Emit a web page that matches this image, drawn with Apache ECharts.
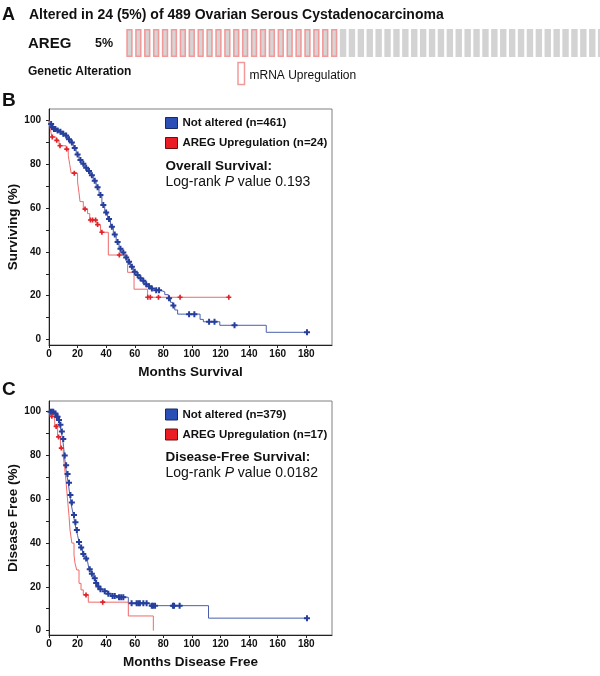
<!DOCTYPE html>
<html>
<head>
<meta charset="utf-8">
<script src="https://cdn.jsdelivr.net/npm/echarts@6/dist/echarts.min.js"></script>
<style>
html,body{margin:0;padding:0;background:#fff;}
#chart{width:600px;height:676px;}
</style>
</head>
<body>
<div id="chart"></div>
<script>
// ---------- Panel A: oncoprint ----------
const alteredSamples = 24;          // mRNA upregulation
const unalteredSamplesShown = 30;   // remaining samples visible in the crop

// ---------- Panel B: Overall survival ----------
const blueBTime = [0,1,2,3,5,7,9,11,13,15,17,19,21,23,25,27,29,31,33,35,37,39,41,43,45,47,49,51,53,55,57,59,61,63,65,67,69,71,74,78,81,83.5,85,86.5,88,90,105.7,108,119.5,152,180.5];
const blueBSurv = [100,98.5,97,96.2,95.5,94.9,94,93.2,91.5,90,87.5,84.5,82,80.3,78.5,77,75,72.5,69.5,66,61.5,58,55,51.5,48,44.5,41.5,39.8,37.5,35.5,33.2,31,29.5,28,26.8,25.2,24.3,23.3,22.5,21.8,20.5,18.8,17,15.5,13.5,11.6,9.2,8.1,6.5,3.3,3.3];
const blueBCensor = [1.5,2.5,3.5,4.5,6,8,10,12,14,16,18,20,22,24,26,28,30,32,34,36,38,40,42,44,46,48,50,52,54,56,58,60,62,64,66,68,70,72,75,77,84,87,98,101.7,112,115.8,129.8,180.5];
const redBTime = [0,1,2,5,7,12,13.5,14.5,15.5,20,21,21.7,24,27,28.5,33.5,36,41.5,55,59.5,69,125.8];
const redBSurv = [100,96,92.5,91,88.5,87,84,80,76,72,67,63,59.6,57.5,54.6,52.5,49,38.6,30.7,23,19.3,19.3];
const redBCensor = [2.3,5.4,7.7,12.4,17.7,25.2,29,30.5,32.6,34,37,49.2,69.1,70.9,76.6,91.7,125.8];

// ---------- Panel C: Disease-free survival ----------
const blueCTime = [0,4,5,6.5,7.5,8.5,9.5,10.2,10.8,11.5,12.3,13.5,14.5,15.3,16.2,17,18,19,20,21,22,23.5,25,27,28,29.5,31,32.5,34,35.5,38,41,44,48,55.5,70.7,111.6,180.5];
const blueCSurv = [100,99.2,97.7,96.2,94,91,87.5,84,80,75.5,71.5,67.5,62,58.5,55.5,52.8,49.5,46,43.5,40.5,38,35,33,31.5,28,26,23.9,21.8,20.2,18.9,18,16.8,15.8,15.2,12.5,11.4,5.7,5.7];
const blueCCensor = [1,2,3,4.5,5.5,6,7,8,9,10,11,12,13,14,15,16,17.5,18.5,19.5,21,22.5,24,26,28.5,30,32,33,34.5,36,39,41.5,44.5,46,49,50.5,52,57.8,61.3,62.5,63.6,66,68.3,71.9,72.8,74.2,86.7,87.5,91.4,180.5];
const redCTime = [0,1,4,6,8,10,11,11.8,12.5,13.2,14,14.7,16,17.5,18.2,19.4,21,22.4,24,27.5,55.5,73];
const redCSurv = [100,97.9,93.3,88.5,83.4,79.5,74,68.8,63.5,58.2,52.5,46,40,34.5,30.8,27.7,21.6,18.6,16.3,13,6.7,0];
const redCCensor = [2,5,6.7,8.6,25.9,37.6];

const xTicks = [0,20,40,60,80,100,120,140,160,180];
const yLabels = [0,20,40,60,80,100];
const yTicks = [0,10,20,30,40,50,60,70,80,90,100];

// ---------- helpers ----------
const FONT = '"Liberation Sans", Arial, Helvetica, sans-serif';
const BLUE_LINE = '#4a5fae', BLUE_MARK = '#263f9c';
const RED_LINE = '#ee6a6a', RED_MARK = '#e0222a';
const PLUS = 'path://M2,0H4V2H6V4H4V6H2V4H0V2H2Z';

function pairs(t, s) { return t.map((v, i) => [v, s[i]]); }
function stepAt(t, s, x) { let v = s[0]; for (let i = 0; i < t.length; i++) { if (t[i] <= x) v = s[i]; } return v; }
function censorPts(c, t, s) { return c.map(x => [x, stepAt(t, s, x)]); }

const bars = [];
for (let i = 0; i < alteredSamples + unalteredSamplesShown; i++) {
  const alt = i < alteredSamples;
  bars.push({ value: 1, itemStyle: alt ? { color: '#d5d5d5', borderColor: '#f29a9a', borderWidth: 1.6 } : { color: '#d3d3d3' } });
}

function xAxisCfg(gridIndex, name, gap) {
  return {
    type: 'value', gridIndex, min: 0, max: 198,
    name, nameLocation: 'middle', nameGap: gap,
    nameTextStyle: { fontFamily: FONT, fontWeight: 'bold', fontSize: 13.5, color: '#111' },
    axisLine: { show: true, onZero: false, lineStyle: { color: '#222', width: 1 } },
    axisTick: { show: true, length: 3, customValues: xTicks, lineStyle: { color: '#222' } },
    axisLabel: { customValues: xTicks, margin: 4, fontFamily: FONT, fontWeight: 'bold', fontSize: 10, color: '#111' },
    splitLine: { show: false }
  };
}
function yAxisCfg(gridIndex, name, min, max) {
  return {
    type: 'value', gridIndex, min, max,
    name, nameLocation: 'middle', nameGap: 28, nameRotate: 90,
    nameTextStyle: { fontFamily: FONT, fontWeight: 'bold', fontSize: 13.5, color: '#111' },
    axisLine: { show: true, onZero: false, lineStyle: { color: '#222', width: 1 } },
    axisTick: { show: true, length: 3, customValues: yTicks, lineStyle: { color: '#222' } },
    axisLabel: { customValues: yLabels, margin: 8, fontFamily: FONT, fontWeight: 'bold', fontSize: 10, color: '#111' },
    splitLine: { show: false }
  };
}
function lineSeries(name, xi, t, s, color) {
  return { name, type: 'line', xAxisIndex: xi, yAxisIndex: xi, step: 'end', data: pairs(t, s),
    showSymbol: false, symbol: 'none', lineStyle: { color, width: 1 }, itemStyle: { color }, z: 3 };
}
function censorSeries(name, xi, pts, color, size) {
  return { name, type: 'scatter', xAxisIndex: xi, yAxisIndex: xi, data: pts, symbol: PLUS, symbolSize: size,
    itemStyle: { color, opacity: 1 }, z: 4 };
}
function txt(x, y, text, size, bold, extra) {
  return Object.assign({ type: 'text', x, y, style: { text, fontFamily: FONT, fontSize: size, fontWeight: bold ? 'bold' : 'normal', fill: '#111', textVerticalAlign: 'middle' } }, extra || {});
}
function richTxt(x, y, pre, post) {
  return { type: 'text', x, y, style: {
    text: '{n|' + pre + '}{i|P}{n|' + post + '}', textVerticalAlign: 'middle',
    rich: { n: { fontFamily: FONT, fontSize: 14, fill: '#111', color: '#111' }, i: { fontFamily: FONT, fontSize: 14, fontStyle: 'italic', fill: '#111', color: '#111' } } } };
}
function legendCfg(top, names) {
  return {
    orient: 'vertical', left: 165, top, itemWidth: 12, itemHeight: 11, itemGap: 8, icon: 'rect',
    padding: 0, selectedMode: false,
    textStyle: { fontFamily: FONT, fontWeight: 'bold', fontSize: 11.5, color: '#111' },
    data: [
      { name: names[0], icon: 'rect', itemStyle: { color: '#2b4fb5', borderColor: '#1a2a60', borderWidth: 1 } },
      { name: names[1], icon: 'rect', itemStyle: { color: '#ec1c24', borderColor: '#6a1010', borderWidth: 1 } }
    ]
  };
}

const chart = echarts.init(document.getElementById('chart'), null, { renderer: 'canvas' });
chart.setOption({
  animation: false,
  backgroundColor: '#fff',
  grid: [
    { left: 125, top: 29, width: (alteredSamples + unalteredSamplesShown) * 8.9, height: 28, show: false, containLabel: false, outerBoundsMode: 'none' },
    { left: 49, top: 109, width: 283, height: 236, show: true, borderColor: '#808080', borderWidth: 1, backgroundColor: 'transparent', containLabel: false, outerBoundsMode: 'none' },
    { left: 49, top: 401, width: 283, height: 234, show: true, borderColor: '#808080', borderWidth: 1, backgroundColor: 'transparent', containLabel: false, outerBoundsMode: 'none' }
  ],
  xAxis: [
    { type: 'category', gridIndex: 0, show: false, data: bars.map((b, i) => i) },
    xAxisCfg(1, 'Months Survival', 20),
    xAxisCfg(2, 'Months Disease Free', 20)
  ],
  yAxis: [
    { type: 'value', gridIndex: 0, show: false, min: 0, max: 1 },
    yAxisCfg(1, 'Surviving (%)', -2.5, 105.3),
    yAxisCfg(2, 'Disease Free (%)', -2, 104.9)
  ],
  legend: [
    legendCfg(117, ['Not altered (n=461)', 'AREG Upregulation (n=24)']),
    legendCfg(408.5, ['Not altered (n=379)', 'AREG Upregulation (n=17)'])
  ],
  series: [
    { type: 'bar', xAxisIndex: 0, yAxisIndex: 0, data: bars, barWidth: 6.4, silent: true },
    lineSeries('Not altered (n=461)', 1, blueBTime, blueBSurv, BLUE_LINE),
    lineSeries('AREG Upregulation (n=24)', 1, redBTime, redBSurv, RED_LINE),
    censorSeries('censor-blue-B', 1, censorPts(blueBCensor, blueBTime, blueBSurv), BLUE_MARK, 6),
    censorSeries('censor-red-B', 1, censorPts(redBCensor, redBTime, redBSurv), RED_MARK, 5),
    lineSeries('Not altered (n=379)', 2, blueCTime, blueCSurv, BLUE_LINE),
    lineSeries('AREG Upregulation (n=17)', 2, redCTime, redCSurv, RED_LINE),
    censorSeries('censor-blue-C', 2, censorPts(blueCCensor, blueCTime, blueCSurv), BLUE_MARK, 6),
    censorSeries('censor-red-C', 2, censorPts(redCCensor, redCTime, redCSurv), RED_MARK, 5)
  ],
  graphic: [
    txt(2, 15, 'A', 18, true),
    txt(29, 15, 'Altered in 24 (5%) of 489 Ovarian Serous Cystadenocarcinoma', 14, true),
    txt(28, 44, 'AREG', 15, true),
    txt(95, 44, '5%', 12.5, true),
    txt(28, 72, 'Genetic Alteration', 12, true),
    { type: 'rect', shape: { x: 238, y: 62.5, width: 6.5, height: 22 }, style: { fill: '#fff', stroke: '#f29a9a', lineWidth: 1.5 } },
    txt(249.5, 76, 'mRNA Upregulation', 12, false),
    txt(2, 101, 'B', 19, true),
    txt(165.5, 166, 'Overall Survival:', 13.5, true),
    richTxt(165.5, 182, 'Log-rank ', ' value 0.193'),
    txt(2, 390, 'C', 19, true),
    txt(165.5, 457, 'Disease-Free Survival:', 13.5, true),
    richTxt(165.5, 473, 'Log-rank ', ' value 0.0182')
  ]
});
</script>
</body>
</html>
